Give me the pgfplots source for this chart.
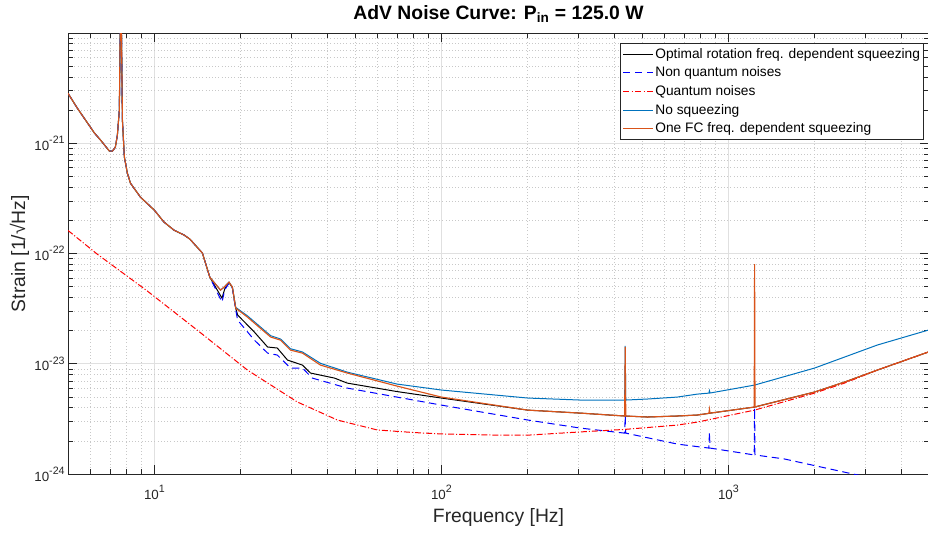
\documentclass[border=0pt]{standalone}
\usepackage{fontspec}
\setmainfont{Liberation Sans}
\usepackage{pgfplots}
\pgfplotsset{compat=1.18}
\definecolor{mblue}{rgb}{0,0.447,0.741}
\definecolor{morange}{rgb}{0.85,0.325,0.098}
\definecolor{axgray}{rgb}{0.15,0.15,0.15}
\definecolor{majgrid}{RGB}{224,224,224}
\definecolor{mingrid}{RGB}{200,200,200}
\newcommand{\sx}[1]{10\raisebox{5pt}{\fontsize{8}{9}\selectfont #1}}
\begin{document}
\begin{tikzpicture}
\begin{axis}[
  at={(0,0)}, anchor=south west,
  xmode=log, ymode=log,
  scale only axis, width=645.75pt, height=330.75pt,
  xmin=5, xmax=5000, ymin=1e-24, ymax=1e-20,
  xtick={10,100,1000},
  xticklabels={\sx{1},\sx{2},\sx{3}},
  ytick={1e-24,1e-23,1e-22,1e-21},
  yticklabels={\sx{-24},\sx{-23},\sx{-22},\sx{-21}},
  minor xtick={6,7,8,9,20,30,40,50,60,70,80,90,200,300,400,500,600,700,800,900,2000,3000,4000},
  minor ytick={2e-24,3e-24,4e-24,5e-24,6e-24,7e-24,8e-24,9e-24,2e-23,3e-23,4e-23,5e-23,6e-23,7e-23,8e-23,9e-23,2e-22,3e-22,4e-22,5e-22,6e-22,7e-22,8e-22,9e-22,2e-21,3e-21,4e-21,5e-21,6e-21,7e-21,8e-21,9e-21},
  grid=both,
  major grid style={majgrid, line width=0.5pt},
  minor grid style={mingrid, dotted, line width=0.5pt},
  axis line style={axgray, line width=0.5pt},
  tick style={axgray, line width=0.5pt},
  major tick length=6.5pt, minor tick length=3.5pt,
  tick align=inside,
  ticklabel style={font=\fontsize{10}{12}\selectfont, text=axgray},
  xticklabel style={anchor=base, yshift=-18.75pt},
  yticklabel style={xshift=1pt},
  title={AdV Noise Curve: P\textsubscript{in} = 125.0 W},
  title style={at={(axis description cs:0.5,1.0306)}, anchor=base, yshift=-6pt, font=\fontsize{14.5}{17}\selectfont\bfseries},
  xlabel={Frequency [Hz]},
  xlabel style={at={(axis description cs:0.5,-0.111)}, anchor=base, font=\fontsize{14.5}{17}\selectfont, text=axgray},
  ylabel={Strain [1/√Hz]},
  ylabel style={at={(axis description cs:-0.0499,0.5)}, anchor=base, font=\fontsize{14.5}{17}\selectfont, text=axgray},
  legend style={at={(axis description cs:1,1)}, anchor=north east, xshift=-3.75pt, yshift=-7.5pt,
    draw=axgray, line width=0.5pt, fill=white, font=\fontsize{10.3}{12}\selectfont,
    inner sep=1.5pt, row sep=0.3pt,
    nodes={inner sep=1.2pt, text height=8.6pt, text depth=2.6pt}},
  legend cell align=left,
  legend image code/.code={\draw[#1, line width=0.75pt] (0pt,0pt) -- (22.5pt,0pt);},
]
% Optimal rotation freq. dependent squeezing
\addplot[black, line width=0.75pt] coordinates {
(5,2.84e-21) (5.39,2.08e-21) (6.18,1.24e-21) (6.49,1.07e-21) (6.8,9.2e-22) (6.97,8.5e-22) (7.14,8.5e-22) (7.31,9.2e-22) (7.43,1.18e-21) (7.55,2.0e-21) (7.6,1e-20) (7.64,6e-20) (7.68,1e-20) (7.74,1.6e-21) (7.86,7.5e-22) (8.05,5.36e-22) (8.25,4.35e-22) (8.94,3.25e-22) (10,2.47e-22) (10.8,1.93e-22) (11.7,1.63e-22) (12.7,1.47e-22) (13.3,1.35e-22) (14.7,1.01e-22) (15.6,6.1e-23)
(17.2,3.94e-23) (17.6,4.8e-23) (18.2,5.45e-23) (18.7,4.9e-23) (19.2,3.2e-23) (19.5,2.77e-23) (22.3,1.94e-23) (24.8,1.42e-23) (26.8,1.39e-23) (29.1,1.08e-23) (32.8,9.73e-24) (35.0,8.24e-24) (42.4,7.42e-24) (47,6.68e-24) (70,5.6e-24) (100,4.89e-24) (200,3.80e-24) (305,3.57e-24) (435,3.36e-24) (522,3.29e-24) (664,3.36e-24) (780,3.43e-24) (859,3.56e-24) (1233,4.05e-24) (1995,5.54e-24) (2537,6.82e-24) (3304,8.77e-24) (5000,1.285e-23)
};
\addlegendentry{Optimal rotation freq. dependent squeezing}
% Non quantum noises
\addplot[blue, line width=0.75pt, dash pattern=on 5.5pt off 3.5pt] coordinates {
(5,2.84e-21) (5.39,2.08e-21) (6.18,1.24e-21) (6.49,1.07e-21) (6.8,9.2e-22) (6.97,8.5e-22) (7.14,8.5e-22) (7.31,9.2e-22) (7.43,1.18e-21) (7.55,2.0e-21) (7.6,1e-20) (7.64,6e-20) (7.68,1e-20) (7.74,1.6e-21) (7.86,7.5e-22) (8.05,5.36e-22) (8.25,4.35e-22) (8.94,3.25e-22) (10,2.47e-22) (10.8,1.93e-22) (11.7,1.63e-22) (12.7,1.47e-22) (13.3,1.35e-22) (14.7,1.01e-22) (15.6,6.1e-23)
(17.2,3.63e-23) (17.6,4.7e-23) (18.2,5.4e-23) (18.7,4.85e-23) (19.2,3.1e-23) (19.5,2.49e-23) (22.3,1.64e-23) (24.8,1.25e-23) (26.8,1.20e-23) (29.8,9.14e-24) (32.8,9.14e-24) (35.5,7.42e-24) (47,6.02e-24) (70,4.99e-24) (100,4.22e-24) (200,3.09e-24) (305,2.61e-24) (435,2.35e-24) (437,3.36e-24) (439,2.35e-24) (664,1.87e-24) (855,1.72e-24) (859,2.40e-24) (863,1.72e-24) (1230,1.49e-24) (1234,3.97e-24) (1238,1.49e-24) (1567,1.37e-24) (2537,1.04e-24) (5000,7.1e-25)
};
\addlegendentry{Non quantum noises}
% Quantum noises
\addplot[red, line width=0.75pt, dash pattern=on 4.5pt off 1.5pt on 0.8pt off 1.5pt,
  legend image code/.code={\draw[color=red, line width=1pt, dash pattern=on 4.5pt off 1.8pt on 1pt off 1.8pt] (0pt,0pt) -- (22.5pt,0pt);}] coordinates {
(5,1.62e-22) (6.32,9.88e-23) (9.46,4.56e-23) (14.1,2.02e-23) (21.1,8.77e-24) (31.5,4.5e-24) (43.4,3.09e-24) (59.8,2.51e-24) (80,2.38e-24) (100,2.31e-24) (150,2.26e-24) (204,2.26e-24) (305,2.41e-24) (435,2.54e-24) (664,2.78e-24) (780,2.96e-24) (1233,3.80e-24) (1995,5.42e-24) (2537,6.68e-24) (3304,8.77e-24) (5000,1.285e-23)
};
\addlegendentry{Quantum noises}
% No squeezing
\addplot[mblue, line width=0.75pt] coordinates {
(5,2.84e-21) (5.39,2.08e-21) (6.18,1.24e-21) (6.49,1.07e-21) (6.8,9.2e-22) (6.97,8.5e-22) (7.14,8.5e-22) (7.31,9.2e-22) (7.43,1.18e-21) (7.55,2.0e-21) (7.6,1e-20) (7.64,6e-20) (7.68,1e-20) (7.74,1.6e-21) (7.86,7.5e-22) (8.05,5.36e-22) (8.25,4.35e-22) (8.94,3.25e-22) (10,2.47e-22) (10.8,1.93e-22) (11.7,1.63e-22) (12.7,1.47e-22) (13.3,1.35e-22) (14.7,1.01e-22) (15.6,6.1e-23)
(17.0,4.66e-23) (17.5,4.96e-23) (18.2,5.51e-23) (18.7,4.96e-23) (19.2,3.25e-23) (21.1,2.72e-23) (25.4,1.80e-23) (27.5,1.68e-23) (29.8,1.37e-23) (32.8,1.28e-23) (37.9,1.01e-23) (47,8.4e-24) (70,6.55e-24) (100,5.78e-24) (200,4.89e-24) (305,4.69e-24) (435,4.69e-24) (437,1.45e-23) (439,4.69e-24) (522,4.79e-24) (664,4.99e-24) (780,5.31e-24) (855,5.42e-24) (859,5.7e-24) (863,5.43e-24) (1233,6.41e-24) (1995,9.14e-24) (2537,1.15e-23) (3304,1.48e-23) (5000,2.03e-23)
};
\addlegendentry{No squeezing}
% One FC freq. dependent squeezing
\addplot[morange, line width=0.85pt] coordinates {
(5,2.84e-21) (5.39,2.08e-21) (6.18,1.24e-21) (6.49,1.07e-21) (6.8,9.2e-22) (6.97,8.5e-22) (7.14,8.5e-22) (7.31,9.2e-22) (7.43,1.18e-21) (7.55,2.0e-21) (7.6,1e-20) (7.64,6e-20) (7.68,1e-20) (7.74,1.6e-21) (7.86,7.5e-22) (8.05,5.36e-22) (8.25,4.35e-22) (8.94,3.25e-22) (10,2.47e-22) (10.8,1.93e-22) (11.7,1.63e-22) (12.7,1.47e-22) (13.3,1.35e-22) (14.7,1.01e-22) (15.6,6.1e-23)
(17.0,4.66e-23) (17.5,4.96e-23) (18.2,5.51e-23) (18.7,4.96e-23) (19.2,3.20e-23) (21.1,2.65e-23) (25.4,1.75e-23) (27.5,1.64e-23) (29.8,1.33e-23) (32.8,1.25e-23) (37.9,9.73e-24) (47,8.24e-24) (70,6.28e-24) (100,4.99e-24) (200,3.80e-24) (305,3.57e-24) (435,3.36e-24) (437,1.42e-23) (439,3.36e-24) (522,3.29e-24) (664,3.36e-24) (780,3.43e-24) (855,3.55e-24) (859,3.88e-24) (863,3.57e-24) (1230,4.05e-24) (1234,8.01e-23) (1238,4.06e-24) (1995,5.54e-24) (2537,6.82e-24) (3304,8.77e-24) (5000,1.285e-23)
};
\addlegendentry{One FC freq. dependent squeezing}
\end{axis}
\pgfresetboundingbox
\path[use as bounding box] (-51pt,-44.25pt) rectangle (645pt,355.5pt);
\end{tikzpicture}
\end{document}
